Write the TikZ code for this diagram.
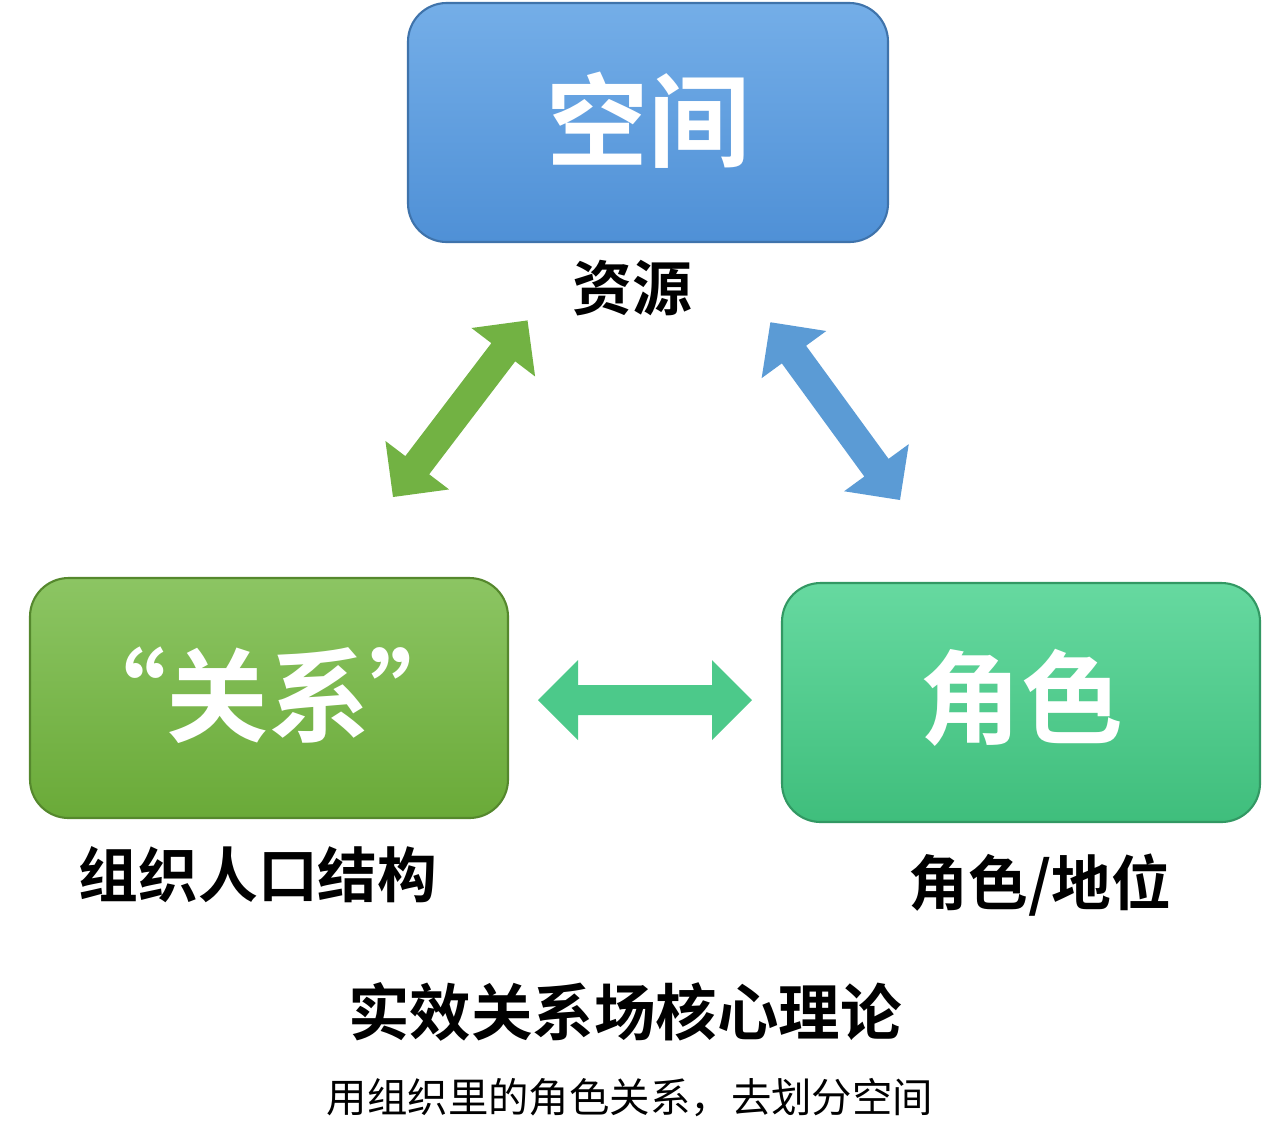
\documentclass[tikz,border=0pt]{standalone}
\usepackage{fontspec}
\newfontfamily\cjk{Noto Sans CJK SC}
\newfontfamily\cjkb{Noto Sans CJK SC Bold}
\definecolor{bluetop}{HTML}{74AEE8}
\definecolor{bluebot}{HTML}{4F90D6}
\definecolor{greentop}{HTML}{8CC563}
\definecolor{greenbot}{HTML}{6AAA38}
\definecolor{tealtop}{HTML}{66D9A0}
\definecolor{tealbot}{HTML}{3FBE7C}
\definecolor{arrgreen}{HTML}{72B243}
\definecolor{arrblue}{HTML}{5B9BD5}
\definecolor{arrteal}{HTML}{4CC98A}
\tikzset{
 box/.style={rounded corners=22, draw=#1bot!80!black, line width=1.2pt, top color=#1top, bottom color=#1bot},
 boxtxt/.style={text=white, font=\cjkb\fontsize{58}{62}\selectfont},
 lab/.style={font=\cjkb\fontsize{34}{38}\selectfont},
}
\newcommand{\dblarrow}[5]{% x y angle length color
 \begin{scope}[shift={(#1,#2)}, rotate=-#3]
 \fill[#5] (0,0) -- (40,-40) -- (40,-15) -- (#4-40,-15) -- (#4-40,-40) -- (#4,0) -- (#4-40,40) -- (#4-40,15) -- (40,15) -- (40,40) -- cycle;
 \end{scope}}
\begin{document}
\begin{tikzpicture}[x=0.02cm,y=-0.02cm]
\useasboundingbox (0,0) rectangle (1280,1147);
\draw[box=blue] (408,3) rectangle (888,242);
\draw[box=green] (30,578) rectangle (508,818);
\draw[box=teal] (782,583) rectangle (1260,822);
\node[boxtxt] (k) at (648,120) {空间};
\node[boxtxt] (g) at (268,695) {“关系”};
\node[boxtxt] (j) at (1021,698) {角色};
\node[lab] (a) at (632,288) {资源};
\node[lab] (b) at (258,875) {组织人口结构};
\node[lab] (c) at (1040,885) {角色/地位};
\node[font=\cjkb\fontsize{35}{40}\selectfont] (t) at (625,1012) {实效关系场核心理论};
\node[font=\cjk\fontsize{23}{28}\selectfont] (s) at (630,1098) {用组织里的角色关系，去划分空间};
\dblarrow{393}{497}{-52.7}{222}{arrgreen}
\dblarrow{900}{500}{-126.1}{220}{arrblue}
\dblarrow{538}{700}{0}{214}{arrteal}
\end{tikzpicture}
\end{document}
